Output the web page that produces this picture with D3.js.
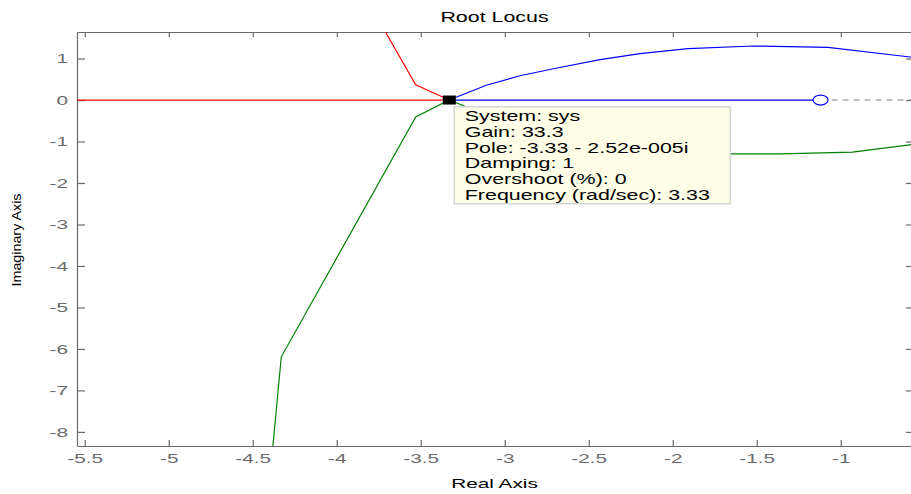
<!DOCTYPE html>
<html>
<head>
<meta charset="utf-8">
<script src="https://cdn.jsdelivr.net/npm/d3@7"></script>
<style>
  body { margin: 0; background: #fff; }
  text { font-family: "Liberation Sans", Arial, sans-serif; }
</style>
</head>
<body>
<div id="vis"></div>
<script>

// tick values
var xTicks = [-5.5, -5, -4.5, -4, -3.5, -3, -2.5, -2, -1.5, -1];
var yTicks = [1, 0, -1, -2, -3, -4, -5, -6, -7, -8];

// root locus branches [real, imag]
var redBranch = [[-5.6, 0], [-3.33, 0], [-3.53, 0.37], [-3.71, 1.64]];
var greenBranch = [[-4.38, -8.34], [-4.33, -6.19], [-3.53, -0.41], [-3.33, 0],
  [-3.11, -0.36], [-2.91, -0.59], [-2.70, -0.77], [-2.43, -0.97], [-2.20, -1.12],
  [-1.91, -1.24], [-1.66, -1.30], [-1.36, -1.30], [-0.93, -1.255], [-0.59, -1.08], [-0.56, -1.07]];
var blueBranch = [[-1.12, 0], [-3.33, 0],
  [-3.11, 0.357], [-2.91, 0.586], [-2.695, 0.767], [-2.433, 0.972], [-2.195, 1.117],
  [-1.909, 1.238], [-1.522, 1.303], [-1.076, 1.269], [-0.588, 1.038], [-0.56, 1.02]];
var asymptote = [[-1.12, 0], [-0.4, 0]];
var zeros = [[-1.12, 0]];
var selectedPole = [-3.33, 0];
var tipLines = ['System: sys', 'Gain: 33.3', 'Pole: -3.33 - 2.52e-005i', 'Damping: 1',
  'Overshoot (%): 0', 'Frequency (rad/sec): 3.33'];

var width = 911;
var height = 494;
// plot box (window.top is read-only, so no bare "top" here)
var box = { left: 77, right: 914, top: 32, bottom: 446 };
var sx = 1.53;     // the picture is stretched sideways, so is the text
var tickSx = 1.6;

var svg = d3.select('#vis')
  .append('svg')
  .attr('width', width)
  .attr('height', height);

var x = d3.scaleLinear().domain([-5.546, -0.564]).range([box.left, box.right]);
var y = d3.scaleLinear().domain([-8.34, 1.64]).range([box.bottom, box.top]);

svg.append('clipPath').attr('id', 'plotclip')
  .append('rect')
  .attr('x', box.left).attr('y', box.top)
  .attr('width', box.right - box.left).attr('height', box.bottom - box.top);

// axes: ticks inward on all four sides
var gBottom = svg.append('g')
  .attr('transform', 'translate(0,' + box.bottom + ')')
  .call(d3.axisBottom(x).tickValues(xTicks).tickSize(-6).tickSizeOuter(0).tickPadding(8)
    .tickFormat(function (d) { return d; }));

var gTop = svg.append('g')
  .attr('transform', 'translate(0,' + box.top + ')')
  .call(d3.axisTop(x).tickValues(xTicks).tickSize(-5).tickSizeOuter(0).tickFormat(''));

var gLeft = svg.append('g')
  .attr('transform', 'translate(' + box.left + ',0)')
  .call(d3.axisLeft(y).tickValues(yTicks).tickSize(-8).tickSizeOuter(0).tickPadding(9)
    .tickFormat(function (d) { return d; }));

var gRight = svg.append('g')
  .attr('transform', 'translate(' + box.right + ',0)')
  .call(d3.axisRight(y).tickValues(yTicks).tickSize(-8).tickSizeOuter(0).tickFormat(''));

[gBottom, gTop, gLeft, gRight].forEach(function (g) {
  g.attr('color', '#6a6a6a').attr('font-size', 13);
  g.selectAll('path, line').attr('stroke-width', 1.2);
});

gBottom.selectAll('text').attr('transform', 'scale(' + tickSx + ',1)');
gLeft.selectAll('text')
  .attr('x', -9 / tickSx)
  .attr('transform', 'scale(' + tickSx + ',1)');

// locus lines
var line = d3.line()
  .x(function (d) { return x(d[0]); })
  .y(function (d) { return y(d[1]); });

var plot = svg.append('g').attr('clip-path', 'url(#plotclip)');

plot.append('path').datum(asymptote)
  .attr('d', line)
  .attr('fill', 'none')
  .attr('stroke', '#808080')
  .attr('stroke-width', 1.1)
  .attr('stroke-dasharray', '6,5');

[[redBranch, '#ff0000'], [greenBranch, '#008000'], [blueBranch, '#0000ff']].forEach(function (b) {
  plot.append('path').datum(b[0])
    .attr('d', line)
    .attr('fill', 'none')
    .attr('stroke', b[1])
    .attr('stroke-width', 1.2);
});

plot.selectAll('.zero')
  .data(zeros)
  .enter().append('ellipse')
  .attr('class', 'zero')
  .attr('cx', function (d) { return x(d[0]); })
  .attr('cy', function (d) { return y(d[1]); })
  .attr('rx', 7.5)
  .attr('ry', 5)
  .attr('fill', '#fff')
  .attr('stroke', '#0000ff')
  .attr('stroke-width', 1.2);

// selected pole marker
svg.append('rect')
  .attr('x', x(selectedPole[0]) - 6.5)
  .attr('y', y(selectedPole[1]) - 4.5)
  .attr('width', 13)
  .attr('height', 9)
  .attr('fill', '#000');

// data tip
var tipX = x(selectedPole[0]) + 5;
var tipY = y(selectedPole[1]) + 6.7;

var tip = svg.append('g').attr('transform', 'translate(' + tipX + ',' + tipY + ')');

tip.append('rect')
  .attr('width', 276)
  .attr('height', 97)
  .attr('fill', '#ffffe8')
  .attr('stroke', '#d4d4d4')
  .attr('stroke-width', 1.5);

tip.selectAll('text')
  .data(tipLines)
  .enter().append('text')
  .attr('transform', function (d, i) {
    return 'translate(10.5,' + (14.3 + i * 15.8) + ') scale(' + sx + ',1)';
  })
  .attr('font-size', 14)
  .attr('fill', '#000')
  .text(function (d) { return d; });

// titles
svg.append('text')
  .attr('transform', 'translate(' + ((box.left + box.right) / 2 - 1) + ',21.7) scale(' + sx + ',1)')
  .attr('text-anchor', 'middle')
  .attr('font-size', 14)
  .text('Root Locus');

svg.append('text')
  .attr('transform', 'translate(' + ((box.left + box.right) / 2 - 1) + ',488) scale(' + sx + ',1)')
  .attr('text-anchor', 'middle')
  .attr('font-size', 13.6)
  .text('Real Axis');

svg.append('text')
  .attr('transform', 'translate(21,' + ((box.top + box.bottom) / 2 + 1) + ') rotate(-90)')
  .attr('text-anchor', 'middle')
  .attr('font-size', 13)
  .attr('textLength', 93)
  .attr('lengthAdjust', 'spacingAndGlyphs')
  .text('Imaginary Axis');

</script>
</body>
</html>
